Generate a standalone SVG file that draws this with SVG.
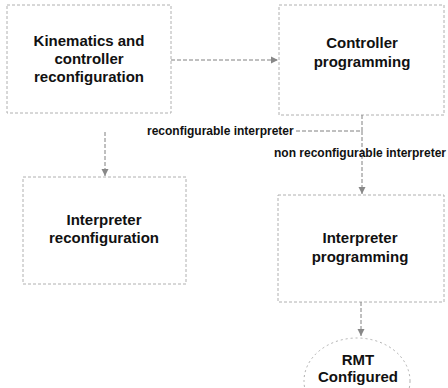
<svg xmlns="http://www.w3.org/2000/svg" width="448" height="388" viewBox="0 0 448 388">
<style>
.box{fill:none;stroke:#b0b0b0;stroke-width:1;stroke-dasharray:3,2}
.t{font-family:"Liberation Sans",Arial,sans-serif;font-weight:bold;font-size:15px;fill:#111;text-anchor:middle}
.l{font-family:"Liberation Sans",Arial,sans-serif;font-weight:bold;font-size:12px;fill:#111}
.c{fill:none;stroke:#808080;stroke-width:1;stroke-dasharray:4,2}
</style>
<defs>
<marker id="ah" markerWidth="8" markerHeight="8" refX="7" refY="4" orient="auto" markerUnits="userSpaceOnUse">
<path d="M0,0.5 L7,4 L0,7.5 Z" fill="#888"/>
</marker>
</defs>
<rect width="448" height="388" fill="#fff"/>
<g id="kinematics">
<rect class="box" x="7" y="5" width="164" height="108"/>
<text class="t" x="89" y="46">Kinematics and</text>
<text class="t" x="89" y="64">controller</text>
<text class="t" x="89" y="82">reconfiguration</text>
</g>
<g id="controller">
<rect class="box" x="279" y="5" width="165" height="110"/>
<text class="t" x="362" y="48">Controller</text>
<text class="t" x="362" y="67">programming</text>
</g>
<g id="interp-reconf">
<rect class="box" x="23" y="177" width="163" height="107"/>
<text class="t" x="104" y="225">Interpreter</text>
<text class="t" x="104" y="243">reconfiguration</text>
</g>
<g id="interp-prog">
<rect class="box" x="278" y="195" width="166" height="107"/>
<text class="t" x="360" y="243">Interpreter</text>
<text class="t" x="360" y="262">programming</text>
</g>
<g id="rmt">
<ellipse cx="357" cy="381" rx="53" ry="43" fill="none" stroke="#b0b0b0" stroke-width="1" stroke-dasharray="2,3"/>
<text class="t" x="358" y="365">RMT</text>
<text class="t" x="358" y="382">Configured</text>
</g>
<g id="connectors">
<path class="c" d="M171,60 H278" marker-end="url(#ah)"/>
<path class="c" d="M362,115 V131 H296"/>
<path class="c" d="M105,132 V176" marker-end="url(#ah)"/>
<path class="c" d="M362,131 V194" marker-end="url(#ah)"/>
<path class="c" d="M361,302 V336" marker-end="url(#ah)"/>
<text class="l" x="147" y="135">reconfigurable interpreter</text>
<text class="l" x="274" y="157">non reconfigurable interpreter</text>
</g>
</svg>
